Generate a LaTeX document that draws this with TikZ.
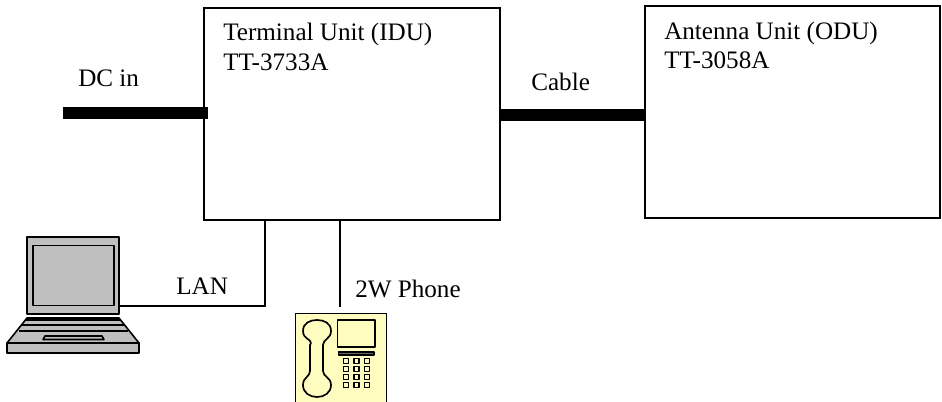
\documentclass[tikz,border=0pt]{standalone}
\usepackage{fontspec}
\setmainfont{Liberation Serif}
\tikzset{
  unitbox/.style={draw=black,line width=1.2pt,fill=white,rectangle,inner sep=0pt,minimum width=222pt,minimum height=159pt},
  lbl/.style={anchor=base west,inner sep=0pt,font=\fontsize{18.85pt}{22pt}\selectfont},
  thickbar/.style={line width=8.6pt,black},
  thinlink/.style={line width=1pt,black},
  ink/.style={draw=black,line width=1.2pt,line join=round},
  laptopfill/.style={ink,fill=black!25},
  phoneink/.style={draw=black,line width=1.25pt,line join=round},
  keyink/.style={draw=black,line width=1.05pt,line join=round},
}
\begin{document}
\begin{tikzpicture}[x=0.75pt,y=-0.75pt]
\useasboundingbox (0,0) rectangle (942,402);
\clip (0,0) rectangle (942,402);
% units
\node[unitbox] (idu) at (352,114) {};
\node[unitbox,minimum width=221pt] (odu) at (792.5,112) {};
% connectors
\coordinate (dcend) at (63,113);
\coordinate (dcin) at (208,113);
\draw[thickbar] (dcend) -- (dcin);
\draw[thickbar] (idu.east |- 0,115) -- (odu.west |- 0,115);
% laptop
\draw[laptopfill] (7,343) -- (27,318) -- (119,318) -- (139,343) -- cycle;
\draw[laptopfill] (7,343) rectangle (139,353);
\draw[ink,line width=1.5pt] (25,320.5) -- (121,320.5);
\draw[ink,line width=1.5pt] (22,325.5) -- (124,325.5);
\draw[ink,line width=1.5pt] (19,331.5) -- (128,331.5);
\draw[ink] (45,336) -- (102,336) -- (104,339.5) -- (43,339.5) -- cycle;
\node[laptopfill,rectangle,inner sep=0pt,minimum width=69pt,minimum height=58pt] (laptop) at (73,275.5) {};
\draw[ink] (33,245.5) rectangle (114,305.5);
% phone
\node[draw=black,line width=1.1pt,fill=yellow!25,rectangle,inner sep=0pt,minimum width=68.2pt,minimum height=75pt,anchor=north west] (phone) at (295,313) {};
\draw[phoneink] (311,343)
  .. controls (311,339) and (303,339) .. (303,331)
  .. controls (303,323) and (310,320) .. (317,320)
  .. controls (324,320) and (331,323) .. (331,331)
  .. controls (331,339) and (323,339) .. (323,345)
  -- (323,371)
  .. controls (323,377) and (331,377) .. (331,385)
  .. controls (331,393) and (324,397) .. (317,397)
  .. controls (310,397) and (303,393) .. (303,385)
  .. controls (303,377) and (310,377) .. (310,371)
  -- (310,345) -- cycle;
\draw[phoneink] (337.5,320) rectangle (375,347);
\draw[phoneink,fill=black!60] (338.5,352) rectangle (374,355);
\foreach \r in {361,369,377,385}
  \foreach \c in {346,356.5,367}
    \draw[keyink] (\c-2.4,\r-2.4) rectangle (\c+2.4,\r+2.4);
% thin links
\coordinate (lanx) at (265,306);
\coordinate (phonex) at (340,307);
\draw[thinlink] (idu.south -| lanx) -- (lanx) -- (lanx -| laptop.east);
\draw[thinlink] (idu.south -| phonex) -- (phonex);
% labels
\node[lbl] (t1) at (223,41) {Terminal Unit (IDU)};
\node[lbl] (t2) at (223,71) {TT-3733A};
\node[lbl] (t3) at (664,40) {Antenna Unit (ODU)};
\node[lbl] (t4) at (664,69) {TT-3058A};
\node[lbl] (t5) at (78,87) {DC in};
\node[lbl] (t6) at (531,91) {Cable};
\node[lbl] (t7) at (176,295) {LAN};
\node[lbl] (t8) at (355,298) {2W Phone};
\end{tikzpicture}
\end{document}
